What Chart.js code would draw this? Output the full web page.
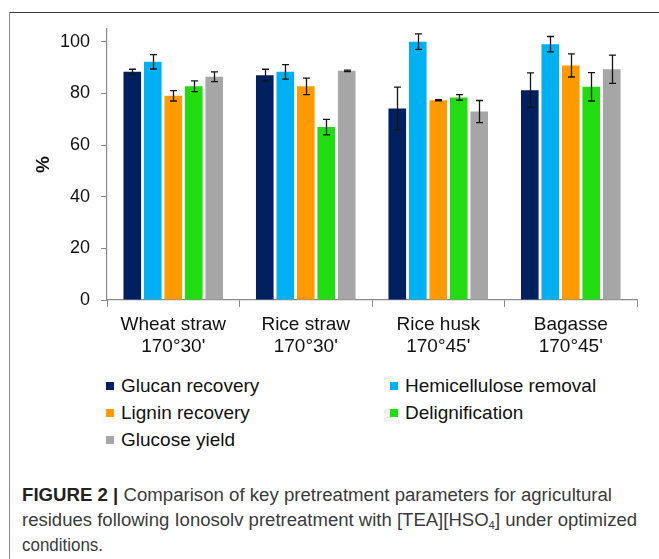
<!DOCTYPE html>
<html>
<head>
<meta charset="utf-8">
<script src="https://cdn.jsdelivr.net/npm/chart.js@4/dist/chart.umd.min.js"></script>
<style>
  html, body { margin: 0; padding: 0; background: #fff; }
  #page { position: relative; width: 659px; height: 559px; overflow: hidden; background: #fff;
          font-family: "Liberation Sans", Arial, sans-serif; }
  #frameTop { position: absolute; left: 9px; top: 12px; width: 650px; height: 0; border-top: 1.5px solid #3c3c3c; }
  #frameLeft { position: absolute; left: 9px; top: 12px; width: 0; height: 547px; border-left: 1.5px solid #8a8a8a; }
  #chartBox { position: absolute; left: 0; top: 0; width: 659px; height: 370px; }
  .lg-item { position: absolute; height: 27px; line-height: 27px; font-size: 19px; color: #111; white-space: nowrap; }
  .lg-box { position: absolute; width: 8px; height: 8px; top: 10px; left: 0; }
  .lg-text { position: absolute; left: 15px; top: 0; }
  #caption { position: absolute; left: 22px; top: 483px; font-size: 18px; line-height: 25px; color: #3a3a3a; }
  #caption .ln { display: block; white-space: nowrap; }
  #caption .ln span.fit { display: inline-block; transform-origin: 0 50%; }
  #caption b { color: #222; }
  #caption sub { font-size: 11px; vertical-align: -3px; line-height: 0; }
</style>
</head>
<body>
<div id="page">
  <div id="frameTop"></div>
  <div id="frameLeft"></div>
  <div id="chartBox"><canvas id="c" width="659" height="370"></canvas></div>
  <div id="legend"></div>
  <div id="caption">
    <span class="ln"><span class="fit" data-w="590"><b>FIGURE 2 |</b> Comparison of key pretreatment parameters for agricultural</span></span>
    <span class="ln"><span class="fit" data-w="615">residues following Ionosolv pretreatment with [TEA][HSO<sub>4</sub>] under optimized</span></span>
    <span class="ln"><span class="fit" data-w="81">conditions.</span></span>
  </div>
</div>
<script>
// Residues and their pretreatment conditions
const categories = [
  ["Wheat straw", "170°30'"],
  ["Rice straw", "170°30'"],
  ["Rice husk", "170°45'"],
  ["Bagasse", "170°45'"]
];

// Series (%), one value per residue
const glucanRecovery        = [88.4, 87.1, 74.2, 81.3];
const hemicelluloseRemoval  = [92.3, 88.4, 100.1, 99.1];
const ligninRecovery        = [79.1, 82.8, 77.4, 90.9];
const delignification       = [82.8, 67.0, 78.5, 82.6];
const glucoseYield          = [86.5, 88.8, 73.0, 89.4];

// Standard deviations (±)
const glucanRecoveryErr       = [1.0, 2.3, 8.3, 6.7];
const hemicelluloseRemovalErr = [2.8, 2.8, 3.0, 3.0];
const ligninRecoveryErr       = [2.0, 3.2, 0.2, 4.5];
const delignificationErr      = [2.1, 3.0, 1.1, 5.5];
const glucoseYieldErr         = [1.9, 0.3, 4.3, 5.5];

const seriesNames  = ["Glucan recovery", "Hemicellulose removal", "Lignin recovery", "Delignification", "Glucose yield"];
const seriesColors = ["#002060", "#00b0f0", "#ff9a00", "#22dc12", "#a6a6a6"];
const seriesValues = [glucanRecovery, hemicelluloseRemoval, ligninRecovery, delignification, glucoseYield];
const seriesErrors = [glucanRecoveryErr, hemicelluloseRemovalErr, ligninRecoveryErr, delignificationErr, glucoseYieldErr];

const yTicks = [0, 20, 40, 60, 80, 100];

const axisGray = "#8a8a8a";

// Error bars with caps, drawn on top of the bars
const errorBars = {
  id: "errorBars",
  afterDatasetsDraw(chart) {
    const ctx = chart.ctx;
    const y = chart.scales.y;
    ctx.save();
    ctx.strokeStyle = "#141414";
    ctx.lineWidth = 1.3;
    chart.data.datasets.forEach((ds, di) => {
      const meta = chart.getDatasetMeta(di);
      meta.data.forEach((bar, i) => {
        const v = ds.data[i], e = ds.errors[i];
        const x = Math.round(bar.x) + 0.5;
        const yt = y.getPixelForValue(v + e);
        const yb = y.getPixelForValue(v - e);
        const cap = 3.5;
        ctx.beginPath();
        ctx.moveTo(x, yt); ctx.lineTo(x, yb);
        ctx.moveTo(x - cap, yt); ctx.lineTo(x + cap, yt);
        ctx.moveTo(x - cap, yb); ctx.lineTo(x + cap, yb);
        ctx.stroke();
      });
    });
    ctx.restore();
  }
};

const chart = new Chart(document.getElementById("c"), {
  type: "bar",
  data: {
    labels: categories,
    datasets: seriesNames.map((name, k) => ({
      label: name,
      data: seriesValues[k],
      errors: seriesErrors[k],
      backgroundColor: seriesColors[k],
      borderWidth: 0,
      categoryPercentage: 0.773,
      barPercentage: 0.86
    }))
  },
  options: {
    responsive: false,
    animation: false,
    devicePixelRatio: 1,
    layout: { padding: { left: 0, right: 22, top: 29, bottom: 0 } },
    plugins: { legend: { display: false }, tooltip: { enabled: false } },
    scales: {
      x: {
        grid: { offset: true, drawOnChartArea: false, drawTicks: true, tickLength: 7, color: axisGray, lineWidth: 1 },
        border: { color: axisGray, width: 1.2 },
        ticks: { color: "#111", font: { family: "Liberation Sans", size: 19 }, padding: 6, maxRotation: 0, autoSkip: false },
        afterFit(s) { s.height = 70; }
      },
      y: {
        min: 0,
        max: 105,
        afterBuildTicks(s) { s.ticks = yTicks.map(v => ({ value: v })); },
        grid: { drawOnChartArea: false, drawTicks: true, tickLength: 6, color: axisGray, lineWidth: 1 },
        border: { color: axisGray, width: 1.2 },
        ticks: { color: "#111", font: { family: "Liberation Sans", size: 18 }, padding: 11 },
        title: { display: true, text: "%", color: "#111", font: { family: "Liberation Sans", size: 19, weight: "bold" }, padding: { top: 32, bottom: 0 } },
        afterFit(s) { s.width = 107; }
      }
    }
  },
  plugins: [errorBars]
});

// Two-column legend built from the chart's datasets
(function buildLegend() {
  const host = document.getElementById("legend");
  const colX = [106, 390];
  const rowTop = [372, 399, 426];
  chart.data.datasets.forEach((ds, i) => {
    const item = document.createElement("div");
    item.className = "lg-item";
    item.style.left = colX[i % 2] + "px";
    item.style.top = rowTop[Math.floor(i / 2)] + "px";
    const box = document.createElement("span");
    box.className = "lg-box";
    box.style.background = ds.backgroundColor;
    const txt = document.createElement("span");
    txt.className = "lg-text";
    txt.textContent = ds.label;
    item.appendChild(box);
    item.appendChild(txt);
    host.appendChild(item);
  });
})();

// Caption lines set to their line widths
document.querySelectorAll("#caption .fit").forEach(el => {
  const w = el.getBoundingClientRect().width;
  const target = parseFloat(el.dataset.w);
  if (w > 0) el.style.transform = "scaleX(" + (target / w).toFixed(4) + ")";
});
</script>
</body>
</html>
